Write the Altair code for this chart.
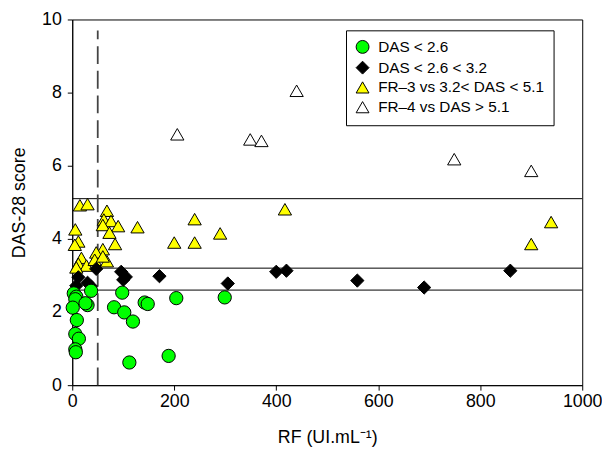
import altair as alt
import pandas as pd

categories = ["DAS < 2.6", "DAS < 2.6 < 3.2", "FR–3 vs 3.2< DAS < 5.1", "FR–4 vs DAS > 5.1"]
shapes = ["circle", "diamond", "triangle-up", "triangle-up"]
fills = ["#00ff00", "#000000", "#ffff00", "#ffffff"]
strokes = ["#000000", "#000000", "#000000", "#000000"]

green_rf = [3, 8, 6, 1, 30, 26, 37, 9, 6, 13, 6, 7, 98, 142, 148, 204, 82, 102, 119, 112, 189, 299]
green_das = [2.51, 2.42, 2.35, 2.12, 2.19, 2.24, 2.58, 1.78, 1.40, 1.27, 0.98, 0.90, 2.53, 2.26, 2.22, 2.38, 2.13, 1.99, 1.74, 0.62, 0.80, 2.40]

black_rf = [47, 96, 105, 100, 12, 8, 37, 30, 171, 305, 400, 420, 559, 690, 859]
black_das = [3.18, 3.10, 2.96, 2.88, 2.95, 2.72, 2.70, 2.80, 2.98, 2.78, 3.10, 3.13, 2.86, 2.67, 3.13]

yellow_rf = [15, 30, 68, 62, 76, 90, 60, 128, 73, 6, 12, 5, 84, 60, 47, 18, 68, 12, 28, 44, 60, 8,
             200, 240, 240, 290, 417, 900, 939]
yellow_das = [4.92, 4.95, 4.77, 4.53, 4.49, 4.35, 4.38, 4.32, 4.17, 4.26, 3.93, 3.84, 3.86, 3.72, 3.63,
              3.48, 3.39, 3.32, 3.27, 3.43, 3.52, 3.22, 3.90, 3.90, 4.54, 4.15, 4.81, 3.86, 4.46]

white_rf = [206, 349, 371, 440, 749, 900]
white_das = [6.86, 6.72, 6.68, 8.05, 6.18, 5.86]

thresholds = [2.6, 3.2, 5.1]
rf_cutoff = [50]
cutoff_top = [9.7]

x_ticks = [0, 200, 400, 600, 800, 1000]
y_ticks = [0, 2, 4, 6, 8, 10]

rows = []
for xs, ys, cat in [(white_rf, white_das, categories[3]), (yellow_rf, yellow_das, categories[2]),
                    (black_rf, black_das, categories[1]), (green_rf, green_das, categories[0])]:
    for xv, yv in zip(xs, ys):
        rows.append({"rf": xv, "das": yv, "group": cat})
df = pd.DataFrame(rows)

FONT = "Liberation Sans"

xscale = alt.Scale(domain=[0, 1000], nice=False)
yscale = alt.Scale(domain=[0, 10], nice=False)

xaxis = alt.Axis(values=x_ticks, format="d", title="RF (UI.mL⁻¹)", grid=False, tickSize=5, labelFontSize=18,
                 titleFontSize=18, labelFont=FONT, titleFont=FONT, titleFontWeight="normal",
                 labelFlush=False, labelPadding=3, titlePadding=18, domainColor="black",
                 tickColor="black", labelColor="black", titleColor="black")
yaxis = alt.Axis(values=y_ticks, format="d", title="DAS-28 score", grid=False, tickSize=5, labelFontSize=18,
                 titleFontSize=18, labelFont=FONT, titleFont=FONT, titleFontWeight="normal",
                 labelFlush=False, labelPadding=6, titlePadding=13, domainColor="black",
                 tickColor="black", labelColor="black", titleColor="black")

hlines = alt.Chart(pd.DataFrame({"t": thresholds})).mark_rule(color="black", strokeWidth=1).encode(
    y=alt.Y("t:Q", scale=yscale, axis=yaxis)
)

vline = alt.Chart(pd.DataFrame({"x": rf_cutoff, "y0": [0], "y1": cutoff_top})).mark_rule(
    color="#444444", strokeWidth=1.8, strokeDash=[18, 7]
).encode(
    x=alt.X("x:Q", scale=xscale, axis=xaxis),
    y=alt.Y("y0:Q", scale=yscale),
    y2="y1:Q",
)

legend = alt.Legend(orient="none", legendX=277, legendY=11, title=None, strokeColor="black",
                    fillColor="white", padding=9, labelFontSize=15.5, labelFont=FONT, labelColor="black",
                    symbolSize=170, symbolStrokeWidth=1, rowPadding=3,
                    labelOffset=8, labelLimit=400)

points = alt.Chart(df).mark_point(filled=True, strokeWidth=1, opacity=1, size=180).encode(
    x=alt.X("rf:Q", scale=xscale, axis=xaxis),
    y=alt.Y("das:Q", scale=yscale, axis=yaxis),
    shape=alt.Shape("group:N", scale=alt.Scale(domain=categories, range=shapes), legend=legend),
    fill=alt.Fill("group:N", scale=alt.Scale(domain=categories, range=fills), legend=legend),
    stroke=alt.Stroke("group:N", scale=alt.Scale(domain=categories, range=strokes), legend=legend),
)

chart = alt.layer(hlines, vline, points).properties(
    width=516, height=370,
    padding={"left": 65, "top": 9, "right": 20, "bottom": 64},
    autosize=alt.AutoSizeParams(type="none"),
).configure_view(stroke="black", strokeWidth=1)

chart.save("out.html", embed_options={"renderer": "svg", "actions": False})
